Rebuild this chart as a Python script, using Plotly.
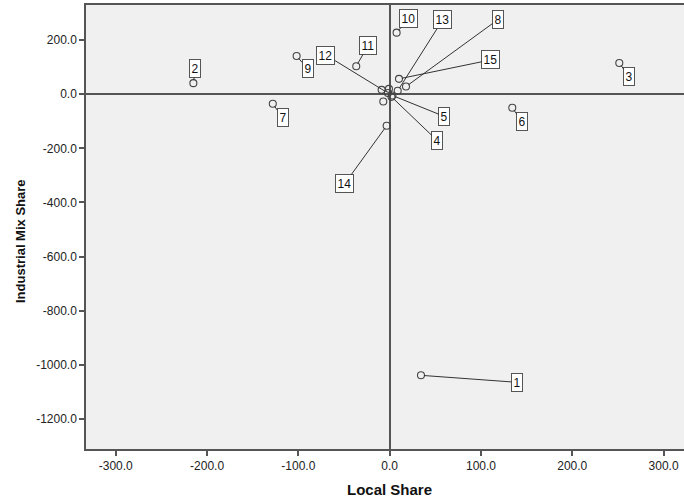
import plotly.graph_objects as go

# ---- data ----
case_labels = ["1", "2", "3", "4", "5", "6", "7", "8", "9", "10",
               "11", "12", "13", "14", "15", "", "", ""]
local_share = [34.3, -215.0, 251.5, 2.0, 3.0, 134.3, -128.0, 17.9, -101.9, 7.6,
               -36.6, -1.9, 8.8, -3.3, 10.2, -8.8, -0.8, -7.0]
industrial_mix_share = [-1038.0, 40.5, 115.0, -10.0, -5.0, -50.5, -35.7, 28.0, 141.0, 227.0,
                        103.0, 4.0, 12.2, -116.8, 56.4, 15.8, 19.5, -27.3]

x_tick_vals = [-300, -200, -100, 0, 100, 200, 300]
x_tick_text = ["-300.0", "-200.0", "-100.0", "0.0", "100.0", "200.0", "300.0"]
y_tick_vals = [-1200, -1000, -800, -600, -400, -200, 0, 200]
y_tick_text = ["-1200.0", "-1000.0", "-800.0", "-600.0", "-400.0", "-200.0", "0.0", "200.0"]

# label offsets in pixels (layout only)
label_offsets = {
    "1": (96, 7), "2": (2, -15), "3": (10, 14), "4": (46, 44), "5": (52, 21),
    "6": (10, 14), "7": (10, 14), "8": (92, -67), "9": (11, 13), "10": (12, -14),
    "11": (12, -21), "12": (-62, -38), "13": (45, -71), "14": (-42, 58), "15": (92, -19),
}

FONT = "Liberation Sans, Arial, sans-serif"
DARK = "#444444"
AXIS = "#555555"
FIG_W = 700          # plot continues past the 684 px window, as in the reference
PLOT_L, PLOT_R, PLOT_T, PLOT_B = 86, 700, 5, 449

fig = go.Figure()
fig.add_trace(go.Scatter(
    x=local_share, y=industrial_mix_share, mode="markers",
    marker=dict(symbol="circle-open", size=7, color=DARK, line=dict(width=1.1)),
    hoverinfo="skip", showlegend=False,
))

for lab, xv, yv in zip(case_labels, local_share, industrial_mix_share):
    if not lab:
        continue
    ax, ay = label_offsets[lab]
    fig.add_annotation(
        x=xv, y=yv, xref="x", yref="y", text=lab,
        showarrow=True, ax=ax, ay=ay, arrowhead=0, arrowwidth=1,
        arrowcolor="#333333", standoff=3, startstandoff=0,
        font=dict(family=FONT, size=12, color="#111111"),
        bgcolor="white", bordercolor=AXIS, borderwidth=1, borderpad=1.5,
    )

# axis titles as annotations
fig.add_annotation(text="<b>Local Share</b>", xref="paper", yref="paper",
                   x=(389 - PLOT_L) / (PLOT_R - PLOT_L),
                   y=-(489 - PLOT_B) / (PLOT_B - PLOT_T),
                   showarrow=False, font=dict(family=FONT, size=15, color="#111111"),
                   xanchor="center", yanchor="middle")
fig.add_annotation(text="<b>Industrial Mix Share</b>", xref="paper", yref="paper",
                   x=-(PLOT_L - 20) / (PLOT_R - PLOT_L),
                   y=(PLOT_B - 241) / (PLOT_B - PLOT_T), textangle=-90,
                   showarrow=False, font=dict(family=FONT, size=13, color="#111111"),
                   xanchor="center", yanchor="middle")

fig.update_layout(
    width=FIG_W, height=499,
    margin=dict(l=PLOT_L, r=FIG_W - PLOT_R, t=PLOT_T, b=499 - PLOT_B),
    paper_bgcolor="white", plot_bgcolor="#F0F0F0",
    font=dict(family=FONT, size=12, color="#222222"),
    xaxis=dict(range=[-332.6, 339.9], tickvals=x_tick_vals, ticktext=x_tick_text,
               showgrid=False, zeroline=True, zerolinecolor=AXIS, zerolinewidth=1.5,
               showline=True, linecolor=AXIS, linewidth=1.5, mirror=True,
               ticks="outside", ticklen=5, tickcolor=AXIS, tickwidth=1.5,
               tickfont=dict(family=FONT, size=12, color="#222222")),
    yaxis=dict(range=[-1310, 329], tickvals=y_tick_vals, ticktext=y_tick_text,
               showgrid=False, zeroline=True, zerolinecolor=AXIS, zerolinewidth=1.5,
               showline=True, linecolor=AXIS, linewidth=1.5, mirror=False,
               ticks="outside", ticklen=5, tickcolor=AXIS, tickwidth=1.5,
               tickfont=dict(family=FONT, size=12, color="#222222")),
)

fig.write_html("out.html", config={"displayModeBar": False},
               post_script="document.body.style.margin='0';"
                           "document.body.style.overflow='hidden';"
                           "document.documentElement.style.overflow='hidden';")
